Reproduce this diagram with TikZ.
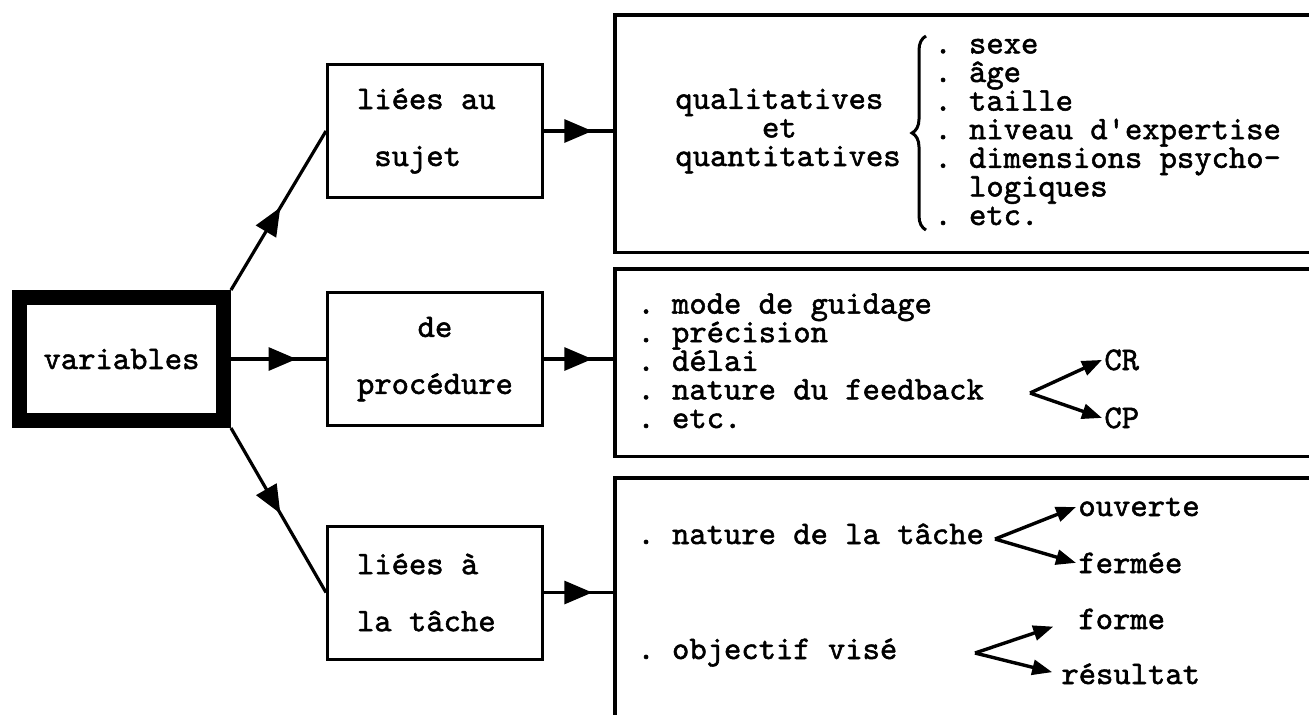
\documentclass[tikz,border=0pt]{standalone}
\usepackage{fontspec}
\newfontfamily\typew{lmmono10-regular}[Extension=.otf, FakeBold=1.6]
\usetikzlibrary{arrows.meta,decorations.markings,decorations.pathreplacing}

\tikzset{
  box/.style={draw, line width=1.5pt, minimum width=107.5pt, minimum height=66.5pt, inner sep=0pt},
  bigbox/.style={draw, line width=1.75pt, minimum width=400pt, anchor=north west, inner sep=0pt},
  txt/.style={inner sep=0pt, align=left, anchor=base west},
  lbl/.style={inner sep=1pt, anchor=base west},
  midarrow/.style={line width=1.6pt, postaction={decorate}, decoration={markings,
      mark=at position #1 with {\arrow{Triangle[length=14pt,width=11.5pt]}}}},
  fork/.style={line width=1.7pt, -{Triangle[length=10pt,width=7.5pt]}},
}

\begin{document}
\begin{tikzpicture}[x=0.5pt, y=-0.5pt,
    font={\fontsize{16.5pt}{14.3pt}\selectfont\typew\frenchspacing}]
    \useasboundingbox (0,0) rectangle (1309,714);
    \clip (0,0) rectangle (1309,714);
    \def \dbl {14.2pt} % extra skip, double spaced lines

    \node[draw, line width=7.5pt, minimum width=102pt, minimum height=61.5pt] (vars) at (121.5,359) {variables};

    \node[box, align=left] (sujet) at (435,131) {liées au\hphantom{x}\\[\dbl]~sujet};
    \node[box, align=center] (proc) at (435,359) {de\\[\dbl]procédure};
    \node[box, align=left] (tache) at (435,592.5) {liées à\\[\dbl]la tâche\hphantom{x}};

    \node[bigbox, minimum height=118.75pt] (bigA) at (613,13) {};
    \node[bigbox, minimum height=93.75pt] (bigB) at (613,267) {};
    \node[bigbox, minimum height=160pt] (bigC) at (613,476) {};

    \draw[midarrow=0.52] (vars.north east) -- (sujet.west);
    \draw[midarrow=0.69] (vars.east) -- (proc.west);
    \draw[midarrow=0.52] (vars.south east) -- (tache.west);
    \draw[midarrow=0.7] (sujet.east) -- (sujet.east -| bigA.west);
    \draw[midarrow=0.7] (proc.east) -- (proc.east -| bigB.west);
    \draw[midarrow=0.7] (tache.east) -- (tache.east -| bigC.west);

    % sujet (last baselines)
    \node[txt] (qual) at (675,166) {qualitatives\\~~~~~et\\quantitatives};
    \draw[line width=1.5pt, decorate, decoration={brace, amplitude=7pt}] (926,230) -- (926,36);
    \node[txt] (listA) at (934,225) {.~sexe\\.~âge\\.~taille\\.~niveau d\textquotesingle expertise\\.~dimensions psycho-\\~~logiques\\.~etc.};

    % procedure
    \node[txt] (listB) at (637,428) {.~mode de guidage\\.~précision\\.~délai\\.~nature du feedback\\.~etc.};
    \node[lbl] (cr) at (1102,370) {CR};
    \node[lbl] (cp) at (1102,428) {CP};
    \coordinate (forkB) at (1030,393);
    \draw[fork] (forkB) -- (cr.west);
    \draw[fork] (forkB) -- (cp.west);

    % tache
    \node[txt] (nature) at (637,544) {.~nature de la tâche};
    \node[txt] (objectif) at (637,659) {.~objectif visé};
    \node[lbl] (ouverte) at (1076,516) {ouverte};
    \node[lbl] (fermee) at (1076,573) {fermée};
    \node[lbl] (forme) at (1076,629) {forme};
    \node[lbl] (resultat) at (1059,684) {résultat};
    \coordinate (forkC) at (995,539);
    \coordinate (forkD) at (975,653);
    \draw[fork] (forkC) -- (ouverte.west);
    \draw[fork] (forkC) -- (fermee.west);
    \draw[fork, shorten >=12pt] (forkD) -- (forme.west);
    \draw[fork, shorten >=3.5pt] (forkD) -- (resultat.west);
\end{tikzpicture}
\end{document}
